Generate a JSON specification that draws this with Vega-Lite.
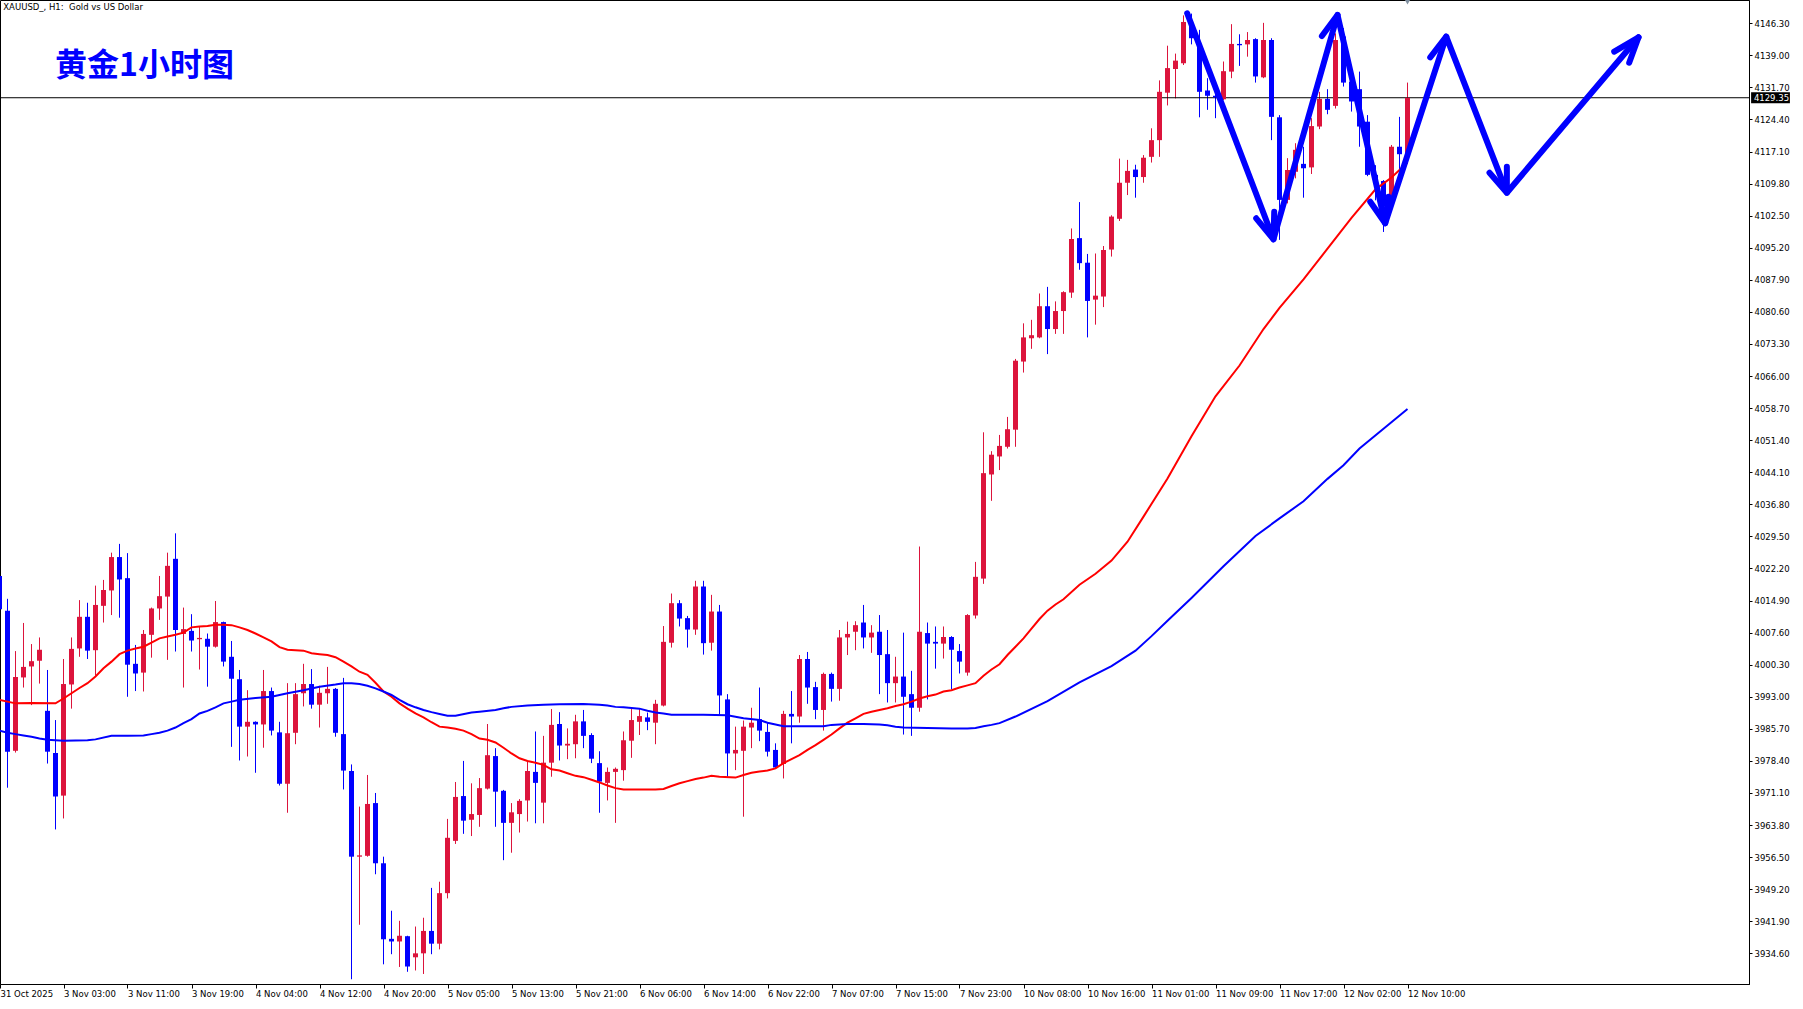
{
"$schema": "https://vega.github.io/schema/vega-lite/v6.json",
"width": 1749, "height": 984,
"autosize": {"type": "none"},
"padding": {"left": 0, "top": 0, "right": 54, "bottom": 25},
"background": "white",
"config": {"view": {"stroke": "black", "strokeWidth": 1}},
"resolve": {"axis": {"x": "independent", "y": "independent"}},
"data": {"values": [{}]},
"datasets": {
"candles": [
{"i":0,"o":4020.5,"h":4021.5,"l":4011.0,"c":4012.9},
{"i":1,"o":4012.6,"h":4015.3,"l":3972.3,"c":3980.5},
{"i":2,"o":3980.7,"h":4003.4,"l":3980.3,"c":3997.5},
{"i":3,"o":3997.4,"h":4009.8,"l":3995.1,"c":3999.8},
{"i":4,"o":3999.9,"h":4005.0,"l":3991.1,"c":4001.1},
{"i":5,"o":4001.2,"h":4006.5,"l":3996.0,"c":4003.7},
{"i":6,"o":3989.8,"h":3999.1,"l":3977.8,"c":3980.5},
{"i":7,"o":3980.2,"h":3987.7,"l":3962.8,"c":3970.3},
{"i":8,"o":3970.5,"h":4001.6,"l":3965.3,"c":3995.9},
{"i":9,"o":3995.8,"h":4006.5,"l":3990.3,"c":4003.9},
{"i":10,"o":4004.0,"h":4015.0,"l":4002.1,"c":4011.2},
{"i":11,"o":4011.2,"h":4014.4,"l":4001.6,"c":4003.5},
{"i":12,"o":4003.6,"h":4018.3,"l":3997.8,"c":4013.9},
{"i":13,"o":4013.7,"h":4019.6,"l":4009.9,"c":4017.3},
{"i":14,"o":4017.2,"h":4025.8,"l":4011.6,"c":4024.8},
{"i":15,"o":4024.8,"h":4027.8,"l":4011.0,"c":4019.7},
{"i":16,"o":4020.0,"h":4025.7,"l":3993.0,"c":4000.3},
{"i":17,"o":4000.5,"h":4004.8,"l":3994.3,"c":3998.3},
{"i":18,"o":3998.5,"h":4008.2,"l":3994.2,"c":4007.3},
{"i":19,"o":4007.1,"h":4013.3,"l":4001.9,"c":4013.1},
{"i":20,"o":4013.1,"h":4020.5,"l":4010.5,"c":4015.9},
{"i":21,"o":4015.8,"h":4025.8,"l":4001.4,"c":4022.8},
{"i":22,"o":4024.4,"h":4030.2,"l":4003.3,"c":4008.2},
{"i":23,"o":4007.3,"h":4013.3,"l":3995.1,"c":4008.4},
{"i":24,"o":4008.0,"h":4011.8,"l":4003.3,"c":4005.8},
{"i":25,"o":4006.1,"h":4009.1,"l":3999.2,"c":4006.4},
{"i":26,"o":4006.2,"h":4007.4,"l":3995.3,"c":4004.4},
{"i":27,"o":4004.4,"h":4014.8,"l":4004.2,"c":4010.0},
{"i":28,"o":4010.0,"h":4010.1,"l":3999.9,"c":4001.0},
{"i":29,"o":4002.1,"h":4005.7,"l":3981.6,"c":3997.1},
{"i":30,"o":3997.0,"h":3999.1,"l":3978.5,"c":3986.2},
{"i":31,"o":3986.2,"h":3994.5,"l":3979.4,"c":3987.3},
{"i":32,"o":3987.3,"h":3987.4,"l":3975.7,"c":3986.7},
{"i":33,"o":3986.7,"h":3999.1,"l":3981.4,"c":3994.3},
{"i":34,"o":3994.3,"h":3995.1,"l":3984.2,"c":3985.3},
{"i":35,"o":3984.9,"h":3987.3,"l":3972.8,"c":3973.2},
{"i":36,"o":3973.2,"h":3996.1,"l":3966.6,"c":3984.7},
{"i":37,"o":3984.8,"h":3996.1,"l":3982.2,"c":3993.6},
{"i":38,"o":3993.8,"h":4000.5,"l":3990.8,"c":3995.9},
{"i":39,"o":3995.9,"h":3999.3,"l":3990.3,"c":3991.2},
{"i":40,"o":3991.2,"h":3995.5,"l":3986.0,"c":3993.9},
{"i":41,"o":3993.8,"h":3999.8,"l":3991.4,"c":3994.8},
{"i":42,"o":3994.8,"h":3995.0,"l":3983.9,"c":3984.8},
{"i":43,"o":3984.5,"h":3997.3,"l":3971.9,"c":3976.2},
{"i":44,"o":3976.1,"h":3977.6,"l":3928.7,"c":3956.6},
{"i":45,"o":3956.6,"h":3968.0,"l":3941.1,"c":3956.9},
{"i":46,"o":3956.8,"h":3975.2,"l":3956.6,"c":3968.6},
{"i":47,"o":3968.8,"h":3971.1,"l":3952.6,"c":3955.1},
{"i":48,"o":3955.1,"h":3956.6,"l":3932.1,"c":3937.8},
{"i":49,"o":3937.9,"h":3944.3,"l":3934.4,"c":3937.3},
{"i":50,"o":3937.3,"h":3942.0,"l":3931.5,"c":3938.6},
{"i":51,"o":3938.5,"h":3938.6,"l":3930.4,"c":3931.6},
{"i":52,"o":3933.7,"h":3940.7,"l":3930.7,"c":3934.6},
{"i":53,"o":3934.6,"h":3942.7,"l":3929.9,"c":3939.7},
{"i":54,"o":3939.7,"h":3949.5,"l":3934.4,"c":3936.8},
{"i":55,"o":3936.8,"h":3950.9,"l":3935.5,"c":3948.3},
{"i":56,"o":3948.3,"h":3965.2,"l":3947.1,"c":3960.9},
{"i":57,"o":3960.2,"h":3973.6,"l":3959.5,"c":3970.2},
{"i":58,"o":3970.4,"h":3978.4,"l":3961.8,"c":3964.8},
{"i":59,"o":3965.0,"h":3973.3,"l":3961.3,"c":3966.3},
{"i":60,"o":3966.1,"h":3974.5,"l":3963.4,"c":3972.2},
{"i":61,"o":3972.1,"h":3986.8,"l":3971.9,"c":3979.7},
{"i":62,"o":3979.5,"h":3981.3,"l":3963.4,"c":3971.4},
{"i":63,"o":3971.6,"h":3971.8,"l":3955.8,"c":3964.3},
{"i":64,"o":3964.3,"h":3968.8,"l":3957.5,"c":3966.7},
{"i":65,"o":3966.3,"h":3969.7,"l":3962.1,"c":3969.3},
{"i":66,"o":3969.4,"h":3978.3,"l":3964.6,"c":3976.1},
{"i":67,"o":3975.9,"h":3985.1,"l":3964.2,"c":3973.4},
{"i":68,"o":3968.9,"h":3984.1,"l":3964.2,"c":3978.0},
{"i":69,"o":3978.0,"h":3990.2,"l":3974.8,"c":3986.6},
{"i":70,"o":3986.8,"h":3989.5,"l":3978.5,"c":3981.9},
{"i":71,"o":3981.9,"h":3985.8,"l":3978.8,"c":3982.3},
{"i":72,"o":3982.2,"h":3988.9,"l":3979.0,"c":3987.4},
{"i":73,"o":3987.4,"h":3990.0,"l":3981.3,"c":3984.1},
{"i":74,"o":3984.3,"h":3984.7,"l":3977.9,"c":3978.9},
{"i":75,"o":3977.9,"h":3980.6,"l":3966.6,"c":3973.7},
{"i":76,"o":3973.4,"h":3976.9,"l":3969.4,"c":3975.9},
{"i":77,"o":3975.9,"h":3976.9,"l":3964.3,"c":3976.6},
{"i":78,"o":3976.3,"h":3985.1,"l":3973.9,"c":3983.1},
{"i":79,"o":3983.0,"h":3990.2,"l":3979.1,"c":3987.7},
{"i":80,"o":3987.3,"h":3990.2,"l":3984.3,"c":3988.6},
{"i":81,"o":3988.3,"h":3989.4,"l":3985.4,"c":3987.3},
{"i":82,"o":3987.1,"h":3992.3,"l":3982.2,"c":3991.4},
{"i":83,"o":3991.0,"h":4009.1,"l":3990.8,"c":4005.5},
{"i":84,"o":4005.3,"h":4016.5,"l":4004.2,"c":4014.3},
{"i":85,"o":4014.3,"h":4015.0,"l":4009.0,"c":4010.8},
{"i":86,"o":4010.9,"h":4011.4,"l":4004.2,"c":4008.3},
{"i":87,"o":4008.3,"h":4019.4,"l":4007.1,"c":4018.1},
{"i":88,"o":4018.1,"h":4019.4,"l":4002.6,"c":4005.2},
{"i":89,"o":4005.3,"h":4016.2,"l":4003.5,"c":4012.4},
{"i":90,"o":4012.4,"h":4013.9,"l":3988.9,"c":3993.3},
{"i":91,"o":3992.4,"h":3993.6,"l":3974.8,"c":3980.1},
{"i":92,"o":3980.1,"h":3986.2,"l":3976.3,"c":3980.9},
{"i":93,"o":3980.7,"h":3987.6,"l":3965.7,"c":3986.2},
{"i":94,"o":3986.0,"h":3990.5,"l":3981.3,"c":3987.1},
{"i":95,"o":3987.9,"h":3995.1,"l":3982.9,"c":3985.3},
{"i":96,"o":3985.0,"h":3987.1,"l":3979.4,"c":3980.5},
{"i":97,"o":3980.9,"h":3982.4,"l":3976.7,"c":3976.9},
{"i":98,"o":3977.7,"h":3989.8,"l":3974.4,"c":3989.1},
{"i":99,"o":3989.1,"h":3994.3,"l":3982.4,"c":3988.5},
{"i":100,"o":3988.5,"h":4002.5,"l":3987.1,"c":4001.6},
{"i":101,"o":4001.6,"h":4003.2,"l":3991.4,"c":3995.1},
{"i":102,"o":3995.2,"h":3996.4,"l":3987.9,"c":3990.0},
{"i":103,"o":3990.0,"h":3998.5,"l":3985.3,"c":3998.2},
{"i":104,"o":3998.2,"h":3998.5,"l":3991.9,"c":3994.8},
{"i":105,"o":3994.8,"h":4008.2,"l":3992.1,"c":4006.5},
{"i":106,"o":4006.5,"h":4010.1,"l":4002.5,"c":4007.3},
{"i":107,"o":4007.8,"h":4010.2,"l":4003.6,"c":4009.3},
{"i":108,"o":4009.9,"h":4013.9,"l":4004.0,"c":4006.5},
{"i":109,"o":4006.5,"h":4009.3,"l":4003.0,"c":4007.6},
{"i":110,"o":4007.8,"h":4011.6,"l":3993.6,"c":4002.5},
{"i":111,"o":4002.7,"h":4008.2,"l":3991.7,"c":3996.1},
{"i":112,"o":3996.1,"h":4002.1,"l":3991.7,"c":3997.6},
{"i":113,"o":3997.6,"h":4007.6,"l":3984.4,"c":3993.0},
{"i":114,"o":3993.6,"h":3998.9,"l":3984.1,"c":3990.5},
{"i":115,"o":3990.5,"h":4027.2,"l":3989.6,"c":4007.8},
{"i":116,"o":4007.5,"h":4009.9,"l":3992.4,"c":4005.1},
{"i":117,"o":4005.5,"h":4009.0,"l":3999.4,"c":4005.1},
{"i":118,"o":4005.1,"h":4009.0,"l":4001.7,"c":4006.6},
{"i":119,"o":4006.6,"h":4006.8,"l":3994.7,"c":4003.7},
{"i":120,"o":4003.4,"h":4005.0,"l":3998.3,"c":4001.0},
{"i":121,"o":3998.5,"h":4011.8,"l":3997.8,"c":4011.6},
{"i":122,"o":4011.5,"h":4023.7,"l":4010.8,"c":4020.3},
{"i":123,"o":4019.9,"h":4053.2,"l":4018.7,"c":4043.9},
{"i":124,"o":4043.6,"h":4048.9,"l":4037.6,"c":4048.1},
{"i":125,"o":4047.7,"h":4052.6,"l":4044.6,"c":4050.1},
{"i":126,"o":4049.9,"h":4056.7,"l":4049.5,"c":4053.9},
{"i":127,"o":4053.8,"h":4069.9,"l":4049.9,"c":4069.5},
{"i":128,"o":4069.3,"h":4078.0,"l":4066.8,"c":4074.8},
{"i":129,"o":4074.6,"h":4078.8,"l":4072.2,"c":4075.3},
{"i":130,"o":4074.8,"h":4084.8,"l":4074.6,"c":4081.9},
{"i":131,"o":4081.9,"h":4086.3,"l":4071.0,"c":4076.7},
{"i":132,"o":4076.7,"h":4083.0,"l":4075.6,"c":4080.8},
{"i":133,"o":4080.8,"h":4085.3,"l":4075.6,"c":4085.1},
{"i":134,"o":4085.0,"h":4099.6,"l":4083.8,"c":4097.2},
{"i":135,"o":4097.4,"h":4105.6,"l":4090.2,"c":4091.7},
{"i":136,"o":4091.8,"h":4093.8,"l":4074.8,"c":4083.1},
{"i":137,"o":4083.4,"h":4093.9,"l":4077.7,"c":4084.3},
{"i":138,"o":4084.1,"h":4095.6,"l":4081.7,"c":4094.7},
{"i":139,"o":4094.8,"h":4102.6,"l":4093.2,"c":4102.3},
{"i":140,"o":4101.8,"h":4115.5,"l":4101.3,"c":4110.0},
{"i":141,"o":4110.0,"h":4115.2,"l":4107.2,"c":4112.7},
{"i":142,"o":4113.0,"h":4114.1,"l":4106.6,"c":4111.3},
{"i":143,"o":4111.3,"h":4116.3,"l":4110.0,"c":4115.7},
{"i":144,"o":4115.9,"h":4122.4,"l":4114.6,"c":4119.7},
{"i":145,"o":4119.7,"h":4133.3,"l":4115.9,"c":4130.7},
{"i":146,"o":4130.5,"h":4141.2,"l":4127.6,"c":4136.1},
{"i":147,"o":4135.9,"h":4139.4,"l":4129.2,"c":4137.8},
{"i":148,"o":4137.2,"h":4148.1,"l":4136.8,"c":4146.6},
{"i":149,"o":4146.3,"h":4148.5,"l":4141.5,"c":4142.9},
{"i":150,"o":4141.0,"h":4144.8,"l":4124.9,"c":4130.7},
{"i":151,"o":4131.0,"h":4133.8,"l":4126.6,"c":4129.8},
{"i":152,"o":4129.8,"h":4133.0,"l":4124.7,"c":4129.4},
{"i":153,"o":4129.0,"h":4137.6,"l":4128.8,"c":4135.4},
{"i":154,"o":4135.3,"h":4146.1,"l":4133.8,"c":4141.6},
{"i":155,"o":4141.6,"h":4143.8,"l":4136.6,"c":4141.3},
{"i":156,"o":4141.5,"h":4144.3,"l":4138.7,"c":4142.5},
{"i":157,"o":4142.7,"h":4142.9,"l":4132.8,"c":4134.2},
{"i":158,"o":4134.0,"h":4146.4,"l":4133.8,"c":4142.5},
{"i":159,"o":4142.5,"h":4142.9,"l":4119.7,"c":4125.0},
{"i":160,"o":4124.9,"h":4125.4,"l":4097.0,"c":4106.1},
{"i":161,"o":4106.1,"h":4115.6,"l":4105.3,"c":4112.9},
{"i":162,"o":4112.5,"h":4119.0,"l":4111.0,"c":4117.5},
{"i":163,"o":4114.3,"h":4118.2,"l":4106.6,"c":4113.3},
{"i":164,"o":4113.5,"h":4124.7,"l":4112.0,"c":4122.9},
{"i":165,"o":4122.8,"h":4130.7,"l":4122.2,"c":4129.1},
{"i":166,"o":4129.1,"h":4131.3,"l":4125.6,"c":4126.6},
{"i":167,"o":4127.5,"h":4144.0,"l":4126.9,"c":4142.5},
{"i":168,"o":4143.3,"h":4145.2,"l":4131.9,"c":4132.8},
{"i":169,"o":4133.0,"h":4135.3,"l":4126.2,"c":4128.5},
{"i":170,"o":4131.3,"h":4135.3,"l":4118.2,"c":4122.8},
{"i":171,"o":4123.9,"h":4125.4,"l":4111.5,"c":4111.8},
{"i":172,"o":4111.8,"h":4114.0,"l":4106.0,"c":4110.4},
{"i":173,"o":4110.4,"h":4110.6,"l":4098.8,"c":4104.6},
{"i":174,"o":4105.2,"h":4118.6,"l":4104.9,"c":4118.2},
{"i":175,"o":4118.2,"h":4125.0,"l":4112.9,"c":4116.5},
{"i":176,"o":4116.5,"h":4132.8,"l":4116.3,"c":4129.35}
],
"maRed": [
{"i":0,"v":3992.3},{"i":2,"v":3991.5},{"i":4,"v":3991.6},{"i":7,"v":3991.5},{"i":8,"v":3992.6},{"i":9,"v":3993.8},{"i":10,"v":3995.0},{"i":11,"v":3996.1},{"i":12,"v":3997.6},{"i":13,"v":3999.5},{"i":14,"v":4001.0},{"i":15,"v":4002.7},{"i":16,"v":4003.5},{"i":17,"v":4004.0},{"i":18,"v":4004.4},{"i":19,"v":4005.3},{"i":20,"v":4006.3},{"i":21,"v":4006.7},{"i":22,"v":4007.1},{"i":23,"v":4007.6},{"i":24,"v":4008.8},{"i":25,"v":4009.0},{"i":26,"v":4009.1},{"i":27,"v":4009.4},{"i":28,"v":4009.4},{"i":29,"v":4009.3},{"i":30,"v":4008.8},{"i":31,"v":4008.2},{"i":32,"v":4007.4},{"i":33,"v":4006.5},{"i":34,"v":4005.6},{"i":35,"v":4004.3},{"i":36,"v":4003.7},{"i":37,"v":4003.6},{"i":38,"v":4003.5},{"i":39,"v":4002.9},{"i":40,"v":4002.7},{"i":41,"v":4002.5},{"i":42,"v":4002.0},{"i":43,"v":4001.0},{"i":44,"v":3999.9},{"i":45,"v":3998.7},{"i":46,"v":3998.0},{"i":47,"v":3996.2},{"i":48,"v":3994.2},{"i":49,"v":3993.0},{"i":50,"v":3991.5},{"i":51,"v":3990.3},{"i":52,"v":3989.2},{"i":53,"v":3988.3},{"i":54,"v":3987.2},{"i":55,"v":3986.2},{"i":56,"v":3986.0},{"i":57,"v":3985.7},{"i":58,"v":3985.3},{"i":59,"v":3984.5},{"i":60,"v":3983.5},{"i":61,"v":3983.2},{"i":62,"v":3982.6},{"i":63,"v":3981.4},{"i":64,"v":3980.1},{"i":65,"v":3979.0},{"i":66,"v":3978.4},{"i":67,"v":3978.0},{"i":68,"v":3977.5},{"i":69,"v":3976.5},{"i":70,"v":3976.2},{"i":71,"v":3975.6},{"i":72,"v":3975.0},{"i":73,"v":3974.7},{"i":74,"v":3974.1},{"i":75,"v":3973.5},{"i":76,"v":3972.8},{"i":77,"v":3972.2},{"i":78,"v":3971.9},{"i":80,"v":3971.9},{"i":82,"v":3971.9},{"i":83,"v":3972.0},{"i":84,"v":3972.7},{"i":85,"v":3973.3},{"i":86,"v":3973.8},{"i":87,"v":3974.3},{"i":88,"v":3974.6},{"i":89,"v":3975.0},{"i":90,"v":3974.8},{"i":92,"v":3974.6},{"i":93,"v":3975.2},{"i":94,"v":3975.7},{"i":95,"v":3976.0},{"i":96,"v":3976.2},{"i":97,"v":3976.7},{"i":98,"v":3977.9},{"i":99,"v":3978.8},{"i":100,"v":3979.7},{"i":101,"v":3980.9},{"i":102,"v":3982.0},{"i":103,"v":3983.2},{"i":104,"v":3984.4},{"i":105,"v":3985.8},{"i":106,"v":3987.1},{"i":107,"v":3988.1},{"i":108,"v":3989.1},{"i":109,"v":3989.6},{"i":110,"v":3990.0},{"i":111,"v":3990.4},{"i":112,"v":3990.9},{"i":113,"v":3991.3},{"i":114,"v":3991.9},{"i":115,"v":3992.6},{"i":116,"v":3993.1},{"i":117,"v":3993.5},{"i":118,"v":3994.2},{"i":119,"v":3994.5},{"i":120,"v":3995.1},{"i":121,"v":3995.6},{"i":122,"v":3996.1},{"i":123,"v":3997.8},{"i":124,"v":3999.2},{"i":125,"v":4000.4},{"i":126,"v":4002.5},{"i":127,"v":4004.4},{"i":128,"v":4006.3},{"i":129,"v":4008.5},{"i":130,"v":4010.7},{"i":131,"v":4012.6},{"i":132,"v":4014.0},{"i":133,"v":4015.2},{"i":135,"v":4018.5},{"i":137,"v":4021.0},{"i":139,"v":4024.0},{"i":141,"v":4028.3},{"i":143,"v":4034.0},{"i":146,"v":4042.7},{"i":149,"v":4052.3},{"i":152,"v":4061.4},{"i":155,"v":4068.4},{"i":158,"v":4076.7},{"i":160,"v":4081.5},{"i":163,"v":4088.0},{"i":166,"v":4095.0},{"i":169,"v":4102.0},{"i":172,"v":4108.5},{"i":174,"v":4111.2},{"i":176,"v":4114.6}
],
"maBlue": [
{"i":0,"v":3985.3},{"i":1,"v":3984.8},{"i":2,"v":3984.5},{"i":3,"v":3984.2},{"i":4,"v":3983.9},{"i":5,"v":3983.5},{"i":6,"v":3983.2},{"i":8,"v":3983.0},{"i":11,"v":3983.1},{"i":12,"v":3983.3},{"i":14,"v":3984.1},{"i":16,"v":3984.1},{"i":18,"v":3984.2},{"i":19,"v":3984.5},{"i":20,"v":3984.8},{"i":21,"v":3985.3},{"i":22,"v":3986.0},{"i":23,"v":3987.0},{"i":24,"v":3987.9},{"i":25,"v":3989.2},{"i":26,"v":3989.8},{"i":27,"v":3990.6},{"i":28,"v":3991.5},{"i":29,"v":3991.9},{"i":30,"v":3992.3},{"i":32,"v":3992.7},{"i":34,"v":3993.0},{"i":36,"v":3993.8},{"i":38,"v":3994.5},{"i":40,"v":3995.3},{"i":42,"v":3995.8},{"i":43,"v":3996.1},{"i":44,"v":3996.1},{"i":45,"v":3995.9},{"i":46,"v":3995.5},{"i":47,"v":3994.9},{"i":48,"v":3994.2},{"i":49,"v":3993.4},{"i":50,"v":3992.3},{"i":51,"v":3991.3},{"i":52,"v":3990.6},{"i":53,"v":3990.0},{"i":54,"v":3989.5},{"i":55,"v":3989.1},{"i":56,"v":3988.7},{"i":57,"v":3988.7},{"i":59,"v":3989.4},{"i":60,"v":3989.6},{"i":62,"v":3990.0},{"i":63,"v":3990.4},{"i":64,"v":3990.7},{"i":66,"v":3991.0},{"i":68,"v":3991.2},{"i":70,"v":3991.3},{"i":73,"v":3991.35},{"i":75,"v":3991.2},{"i":76,"v":3991.0},{"i":77,"v":3990.7},{"i":78,"v":3990.6},{"i":80,"v":3990.3},{"i":81,"v":3989.8},{"i":82,"v":3989.4},{"i":83,"v":3989.2},{"i":84,"v":3988.9},{"i":88,"v":3988.9},{"i":91,"v":3988.8},{"i":93,"v":3988.1},{"i":95,"v":3987.7},{"i":96,"v":3987.1},{"i":97,"v":3986.7},{"i":98,"v":3986.3},{"i":103,"v":3986.3},{"i":104,"v":3986.6},{"i":106,"v":3986.8},{"i":108,"v":3986.8},{"i":110,"v":3986.7},{"i":111,"v":3986.5},{"i":112,"v":3986.2},{"i":113,"v":3986.0},{"i":116,"v":3985.9},{"i":119,"v":3985.75},{"i":121,"v":3985.75},{"i":122,"v":3985.9},{"i":123,"v":3986.3},{"i":124,"v":3986.6},{"i":125,"v":3987.0},{"i":127,"v":3988.5},{"i":131,"v":3992.0},{"i":135,"v":3996.3},{"i":139,"v":4000.0},{"i":142,"v":4003.5},{"i":144,"v":4006.8},{"i":146,"v":4010.3},{"i":149,"v":4015.5},{"i":153,"v":4022.7},{"i":157,"v":4029.6},{"i":160,"v":4033.6},{"i":163,"v":4037.5},{"i":166,"v":4042.6},{"i":168,"v":4045.7},{"i":170,"v":4049.5},{"i":173,"v":4054.0},{"i":176,"v":4058.5}
],
"arrows": [
{"g":0,"n":0,"i":148.46,"p":4148.58},{"g":0,"n":1,"i":159.25,"p":4097.13},{"g":0,"n":2,"i":167.25,"p":4148.19},{"g":0,"n":3,"i":173.21,"p":4100.77},{"g":0,"n":4,"i":180.84,"p":4143.25},{"g":0,"n":5,"i":188.42,"p":4107.74},{"g":0,"n":6,"i":204.88,"p":4143.11},
{"g":1,"n":0,"i":157.09,"p":4101.91},{"g":1,"n":1,"i":159.25,"p":4097.13},{"g":1,"n":2,"i":159.34,"p":4103.41},
{"g":2,"n":0,"i":165.30,"p":4143.41},{"g":2,"n":1,"i":167.25,"p":4148.19},
{"g":3,"n":0,"i":171.34,"p":4105.69},{"g":3,"n":1,"i":173.21,"p":4100.77},{"g":3,"n":2,"i":173.60,"p":4106.83},
{"g":4,"n":0,"i":178.84,"p":4138.56},{"g":4,"n":1,"i":180.84,"p":4143.25},
{"g":5,"n":0,"i":186.25,"p":4112.29},{"g":5,"n":1,"i":188.42,"p":4107.74},{"g":5,"n":2,"i":188.42,"p":4113.66},
{"g":6,"n":0,"i":201.84,"p":4139.84},{"g":6,"n":1,"i":204.88,"p":4143.11},{"g":6,"n":2,"i":203.71,"p":4137.33}
]
},
"layer": [
{"data": {"name": "candles"},
 "mark": {"type": "rule", "strokeWidth": 1, "clip": true},
 "encoding": {
  "x": {"field": "i", "type": "quantitative", "scale": {"domain": [0.0625, 218.6875], "nice": false, "zero": false},
        "axis": {"values": [0.0625,8,16,24,32,40,48,56,64,72,80,88,96,104,112,120,128,136,144,152,160,168,176],
                 "labelExpr": "datum.value < 1 ? '31 Oct 2025' : ['','3 Nov 03:00','3 Nov 11:00','3 Nov 19:00','4 Nov 04:00','4 Nov 12:00','4 Nov 20:00','5 Nov 05:00','5 Nov 13:00','5 Nov 21:00','6 Nov 06:00','6 Nov 14:00','6 Nov 22:00','7 Nov 07:00','7 Nov 15:00','7 Nov 23:00','10 Nov 08:00','10 Nov 16:00','11 Nov 01:00','11 Nov 09:00','11 Nov 17:00','12 Nov 02:00','12 Nov 10:00'][round(datum.value/8)]",
                 "title": null, "grid": false, "domainColor": "black", "tickColor": "black", "tickSize": 4,
                 "labelAlign": "left", "labelBaseline": "top", "labelPadding": 1, "labelDx": 2,
                 "labelFont": "DejaVu Sans", "labelFontSize": 8.5, "labelColor": "black",
                 "labelFlush": false, "labelOverlap": false}},
  "y": {"field": "l", "type": "quantitative", "scale": {"domain": [3927.62, 4151.6], "nice": false, "zero": false},
        "axis": {"orient": "right", "values": [3934.6,3941.9,3949.2,3956.5,3963.8,3971.1,3978.4,3985.7,3993.0,4000.3,4007.6,4014.9,4022.2,4029.5,4036.8,4044.1,4051.4,4058.7,4066.0,4073.3,4080.6,4087.9,4095.2,4102.5,4109.8,4117.1,4124.4,4131.7,4139.0,4146.3],
                 "format": ".2f", "title": null, "grid": false, "domainColor": "black", "tickColor": "black", "tickSize": 3,
                 "labelPadding": 2, "labelAlign": "left", "labelBaseline": "middle",
                 "labelFont": "DejaVu Sans", "labelFontSize": 8.5, "labelColor": "black",
                 "labelFlush": false, "labelOverlap": false}},
  "y2": {"field": "h"},
  "color": {"condition": {"test": "datum.c >= datum.o", "value": "#DC143C"}, "value": "#0000FF"}
 }},
{"mark": {"type": "rule", "color": "black", "strokeWidth": 1},
 "encoding": {"y": {"datum": 4129.35, "type": "quantitative", "axis": null}}},
{"data": {"name": "candles"},
 "mark": {"type": "rule", "strokeWidth": 5, "strokeCap": "butt", "clip": true},
 "encoding": {
  "x": {"field": "i", "type": "quantitative", "axis": null},
  "y": {"field": "o", "type": "quantitative", "axis": null},
  "y2": {"field": "c"},
  "color": {"condition": {"test": "datum.c >= datum.o", "value": "#DC143C"}, "value": "#0000FF"}
 }},
{"data": {"name": "maRed"},
 "mark": {"type": "line", "color": "#FF0000", "strokeWidth": 2, "clip": true},
 "encoding": {
  "x": {"field": "i", "type": "quantitative", "axis": null},
  "y": {"field": "v", "type": "quantitative", "axis": null}
 }},
{"data": {"name": "maBlue"},
 "mark": {"type": "line", "color": "#0000FF", "strokeWidth": 2, "clip": true},
 "encoding": {
  "x": {"field": "i", "type": "quantitative", "axis": null},
  "y": {"field": "v", "type": "quantitative", "axis": null}
 }},
{"data": {"name": "arrows"},
 "mark": {"type": "line", "color": "#0000FF", "strokeWidth": 6, "strokeCap": "round", "strokeJoin": "round", "clip": true},
 "encoding": {
  "x": {"field": "i", "type": "quantitative", "axis": null},
  "y": {"field": "p", "type": "quantitative", "axis": null},
  "detail": {"field": "g", "type": "nominal"},
  "order": {"field": "n", "type": "quantitative"}
 }},
{"mark": {"type": "text", "text": "XAUUSD_, H1:\u00a0 Gold vs US Dollar", "font": "DejaVu Sans", "fontSize": 8.5, "color": "black", "align": "left", "baseline": "middle"},
 "encoding": {"x": {"datum": 0.475, "type": "quantitative", "axis": null}, "y": {"datum": 4149.9, "type": "quantitative", "axis": null}}},
{"mark": {"type": "text", "text": "黄金1小时图", "font": "Noto Sans CJK SC", "fontSize": 32, "fontWeight": "bold", "color": "#0000FF", "align": "left", "baseline": "middle"},
 "encoding": {"x": {"datum": 6.94, "type": "quantitative", "axis": null}, "y": {"datum": 4136.58, "type": "quantitative", "axis": null}}},
{"mark": {"type": "rect", "color": "black", "clip": false},
 "encoding": {"x": {"datum": 218.95, "type": "quantitative", "axis": null}, "x2": {"datum": 223.8},
              "y": {"datum": 4128.1, "type": "quantitative", "axis": null}, "y2": {"datum": 4130.6}}},
{"mark": {"type": "text", "text": "4129.35", "font": "DejaVu Sans", "fontSize": 8.5, "color": "white", "align": "left", "baseline": "middle", "clip": false},
 "encoding": {"x": {"datum": 219.3, "type": "quantitative", "axis": null}, "y": {"datum": 4129.35, "type": "quantitative", "axis": null}}},
{"mark": {"type": "point", "shape": "triangle-down", "filled": true, "color": "#8090A0", "size": 40, "opacity": 1, "clip": true},
 "encoding": {"x": {"datum": 176, "type": "quantitative", "axis": null}, "y": {"datum": 4151.2, "type": "quantitative", "axis": null}}}
]
}
